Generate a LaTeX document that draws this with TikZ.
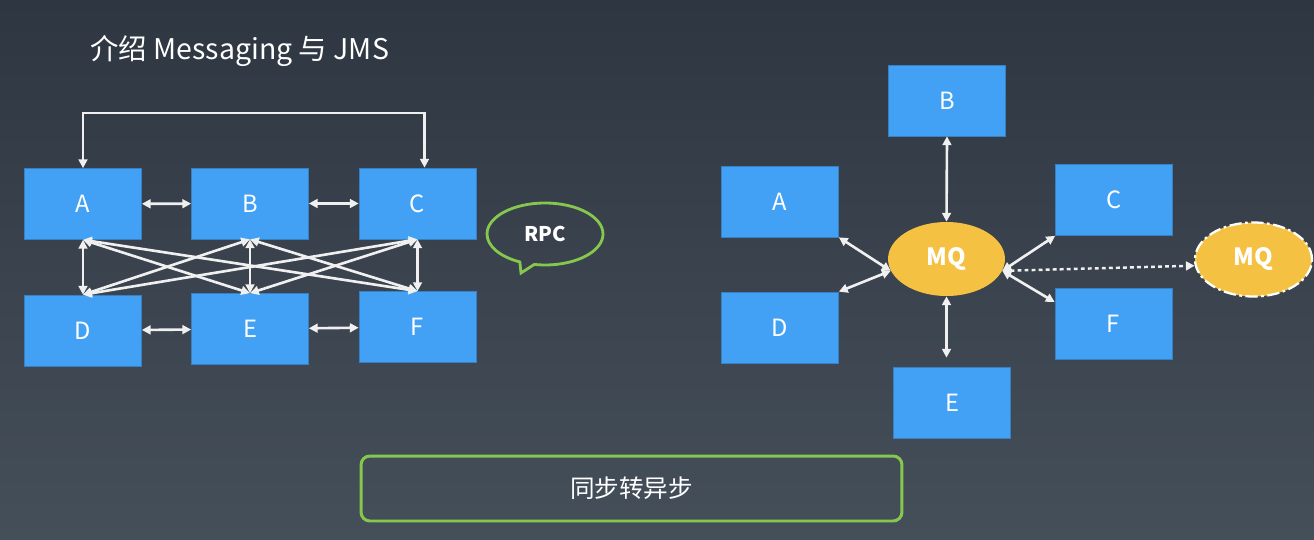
\documentclass[tikz,border=0pt]{standalone}
\usepackage{fontspec}
\setmainfont{Noto Sans CJK SC}
\usetikzlibrary{arrows.meta,shapes.geometric,shapes.callouts}

\definecolor{bgtop}{HTML}{2E3641}
\definecolor{bgbot}{HTML}{454F5A}
\definecolor{boxblue}{HTML}{42A1F5}
\definecolor{mqyellow}{HTML}{F5C142}
\definecolor{okgreen}{HTML}{86C84E}
\definecolor{linkgray}{HTML}{F0F0F0}

\begin{document}
\begin{tikzpicture}[x=0.02cm, y=-0.02cm,
    box/.style={rectangle, fill=boxblue, draw=boxblue!80!black, line width=0.4pt, minimum width=2.34cm, minimum height=1.42cm, text=white, font=\fontsize{13.5}{15}\selectfont},
    queue/.style={ellipse, fill=mqyellow, minimum width=2.34cm, minimum height=1.48cm, inner sep=0pt, text=white, font=\fontsize{13.5}{15}\selectfont\bfseries},
    link/.style={draw=linkgray, line width=1.5pt, >={Triangle[length=5pt,width=5pt]}, <->}]

        % Background and page size
        \useasboundingbox (0,0) rectangle (1314,540);
        \shade[top color=bgtop, bottom color=bgbot] (0,0) rectangle (1314,540);

        % Title
        \node[anchor=base west, inner sep=0pt, text=white, font=\fontsize{16.2}{18}\selectfont] (title) at (90,60) {介绍 Messaging 与 JMS};

        % Left: every system talks to every other one
        \node[box] (pA) at (83,204) {A};
        \node[box] (pB) at (250,203.5) {B};
        \node[box] (pC) at (417.5,203.5) {C};
        \node[box] (pD) at (83,330.5) {D};
        \node[box] (pE) at (250,329) {E};
        \node[box] (pF) at (417.5,327) {F};

        \draw[link] (pA) -- (pB);
        \draw[link] (pB) -- (pC);
        \draw[link] (pD) -- (pE);
        \draw[link] (pE) -- (pF);
        \draw[link] (pA.north) -- ++(0,-55) -| ([xshift=0.14cm]pC.north);

        \draw[link] (pA.south) -- (pD.north);
        \draw[link] (pB.south) -- (pE.north);
        \draw[link] (pC.south) -- (pF.north);
        \draw[link] (pA.south) -- (pE.north);
        \draw[link] (pA.south) -- (pF.north);
        \draw[link] (pB.south) -- (pD.north);
        \draw[link] (pB.south) -- (pF.north);
        \draw[link] (pC.south) -- (pD.north);
        \draw[link] (pC.south) -- (pE.north);

        % Speech bubble
        \coordinate (rpctip) at (521,273);
        \node[ellipse callout, draw=okgreen, line width=1.6pt, minimum width=2.32cm, minimum height=1.24cm, callout absolute pointer={(rpctip)}, text=white, font=\fontsize{11.5}{13}\selectfont\bfseries] (rpc) at (545,234) {RPC};

        % Right: all systems go through the queue
        \node[box] (qA) at (780,201.5) {A};
        \node[box] (qB) at (947,100.5) {B};
        \node[box] (qC) at (1114,200) {C};
        \node[box] (qD) at (780,327.5) {D};
        \node[box] (qE) at (952,402.5) {E};
        \node[box] (qF) at (1113.5,323.5) {F};
        \node[queue] (mq) at (946.5,259) {MQ};
        \node[queue, draw=white, line width=1.3pt, dash pattern=on 7pt off 2pt on 1.5pt off 2pt] (mq2) at (1253.5,259.5) {MQ};

        \draw[link] (qB.south) -- (mq.north);
        \draw[link] (mq.south) -- ([yshift=0.18cm]mq.south |- qE.north);
        \draw[link] (qA.south east) -- (mq.192);
        \draw[link] (qD.north east) -- (mq.192);
        \draw[link] (qC.south west) -- (mq.348);
        \draw[link] (qF.160) -- (mq.348);
        \draw[link, line width=1.4pt, dash pattern=on 2.2pt off 1.8pt] (mq.348) -- (mq2.186);

        % Bottom note
        \node[draw=okgreen, line width=1.7pt, rounded corners=5pt, minimum width=10.82cm, minimum height=1.3cm, text=white, font=\fontsize{14}{16}\selectfont] (sync) at (631.5,488.5) {同步转异步};

    \end{tikzpicture}
\end{document}
